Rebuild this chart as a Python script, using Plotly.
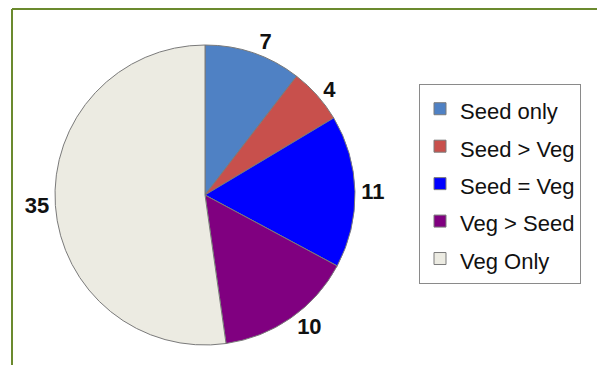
import plotly.graph_objects as go

labels = ["Seed only", "Seed > Veg", "Seed = Veg", "Veg > Seed", "Veg Only"]
values = [7, 4, 11, 10, 35]
colors = ["#4f81c4", "#c8504c", "#0000ff", "#800080", "#ecebe2"]

W, H = 597, 365
cx, cy, r = 205, 195, 150

legend_labels = ["<span style='font-size:22px'>%s</span>" % s for s in labels]

fig = go.Figure(go.Pie(
    labels=legend_labels,
    values=values,
    sort=False,
    direction="clockwise",
    rotation=0,
    marker=dict(colors=colors, line=dict(color="#7a7a7a", width=1)),
    texttemplate="<b>%{value}</b>",
    textposition="outside",
    textfont=dict(family="Liberation Sans, Arial, sans-serif", size=22, color="#111111"),
    domain=dict(x=[(cx - r) / W, (cx + r) / W], y=[(H - cy - r) / H, (H - cy + r) / H]),
    showlegend=True,
))

fig.update_layout(
    width=W, height=H,
    margin=dict(l=0, r=0, t=0, b=0),
    paper_bgcolor="white",
    font=dict(family="Liberation Sans, Arial, sans-serif", size=22, color="#111111"),
    legend=dict(
        x=419 / W, y=(H - 84) / H, xanchor="left", yanchor="top",
        bordercolor="#8a8a8a", borderwidth=1, bgcolor="white",
        font=dict(size=26.5),
    ),
    shapes=[
        dict(type="line", xref="paper", yref="paper", x0=12 / W, x1=1, y0=(H - 9) / H, y1=(H - 9) / H,
             line=dict(color="#6b8a2e", width=2)),
        dict(type="line", xref="paper", yref="paper", x0=12 / W, x1=12 / W, y0=0, y1=(H - 9) / H,
             line=dict(color="#6b8a2e", width=2)),
    ],
)

fig.write_html("out.html")
